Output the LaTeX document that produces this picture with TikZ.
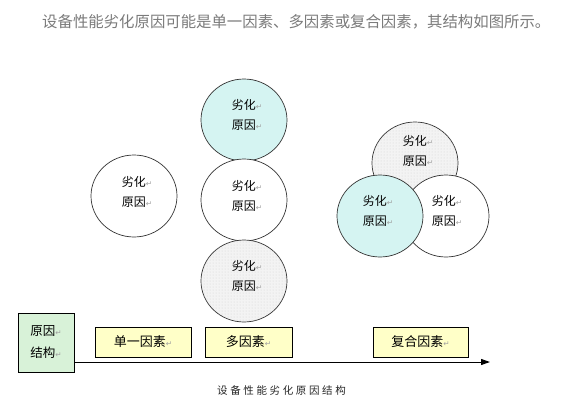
\documentclass[tikz,border=0pt]{standalone}
\usepackage{fontspec}
\setmainfont{Noto Sans CJK SC}
\newfontfamily\symb{DejaVu Sans}
\usetikzlibrary{shapes.geometric,arrows.meta,patterns}

\definecolor{bleuclair}{HTML}{D5F4F2}
\definecolor{vertclair}{HTML}{D8F2D8}
\definecolor{jauneclair}{HTML}{FFFFC8}
\definecolor{grispoint}{HTML}{F3F3F3}
\definecolor{titregris}{HTML}{7A7A7A}
\newcommand\retour{{\color{gray!75}\symb\fontsize{7.5}{7.5}\selectfont ↵}}

\begin{document}
\begin{tikzpicture}[x=1pt, y=-1pt,
  cercle/.style={ellipse, draw=black!80, line width=0.7pt, minimum width=86pt,
    minimum height=82pt, inner sep=0pt},
  pointille/.style={fill=grispoint, postaction={pattern=dots, pattern color=gray!35}},
  texte/.style={align=center, inner sep=0pt, font=\fontsize{12}{20}\selectfont},
  boite/.style={draw, line width=0.8pt, fill=jauneclair, minimum height=30pt,
    font=\fontsize{13}{13}\selectfont}]

\useasboundingbox (0,0) rectangle (563,416);

% Titre
\node[anchor=west, inner sep=0pt, text=titregris, font=\fontsize{15.4}{15.4}\selectfont]
  (titre) at (42,22) {设备性能劣化原因可能是单一因素、多因素或复合因素，其结构如图所示。};

% Facteur unique
\node[cercle, fill=white] (unique) at (134,196) {};
\node[texte] (unique-t) at ([xshift=3pt,yshift=4pt]unique) {劣化\retour\\原因\retour};

% Facteurs multiples
\node[cercle, fill=bleuclair] (multi1) at (244,120) {};
\node[texte] (multi1-t) at ([xshift=3pt,yshift=5pt]multi1) {劣化\retour\\原因\retour};
\node[cercle, fill=white] (multi2) at (244,200) {};
\node[texte] (multi2-t) at ([xshift=3pt,yshift=4pt]multi2) {劣化\retour\\原因\retour};
\node[cercle, pointille] (multi3) at (244,281) {};
\node[texte] (multi3-t) at ([xshift=3pt,yshift=5pt]multi3) {劣化\retour\\原因\retour};

% Facteurs composés
\node[cercle, pointille] (comp1) at (415,163) {};
\node[texte] (comp1-t) at ([xshift=3pt,yshift=12pt]comp1) {劣化\retour\\原因\retour};
\node[cercle, fill=white] (comp2) at (446,216) {};
\node[texte] (comp2-t) at ([xshift=1pt,yshift=5pt]comp2) {劣化\retour\\原因\retour};
\node[cercle, fill=bleuclair] (comp3) at (380,216) {};
\node[texte] (comp3-t) at ([xshift=-2pt,yshift=5pt]comp3) {劣化\retour\\原因\retour};

% Axe
\node[draw, line width=0.8pt, fill=vertclair, minimum width=56pt, minimum height=59pt,
  align=center, font=\fontsize{12.5}{22}\selectfont] (structure) at (46,342.5)
  {原因\retour\\结构\retour};
\coordinate (fin) at (490,362);
\draw[line width=1pt, -{Triangle[length=9pt,width=6pt]}] (structure.east |- fin) -- (fin);

\node[boite, minimum width=96pt] (simple) at (143,342) {单一因素\retour};
\node[boite, minimum width=87pt] (plusieurs) at (248.5,342) {多因素\retour};
\node[boite, minimum width=95pt] (compose) at (420.5,342) {复合因素\retour};

% Légende
\node[text=black!85, font=\fontsize{10.5}{10.5}\selectfont\addfontfeatures{LetterSpace=25}]
  (legende) at (281.5,391) {设备性能劣化原因结构};

\end{tikzpicture}
\end{document}
